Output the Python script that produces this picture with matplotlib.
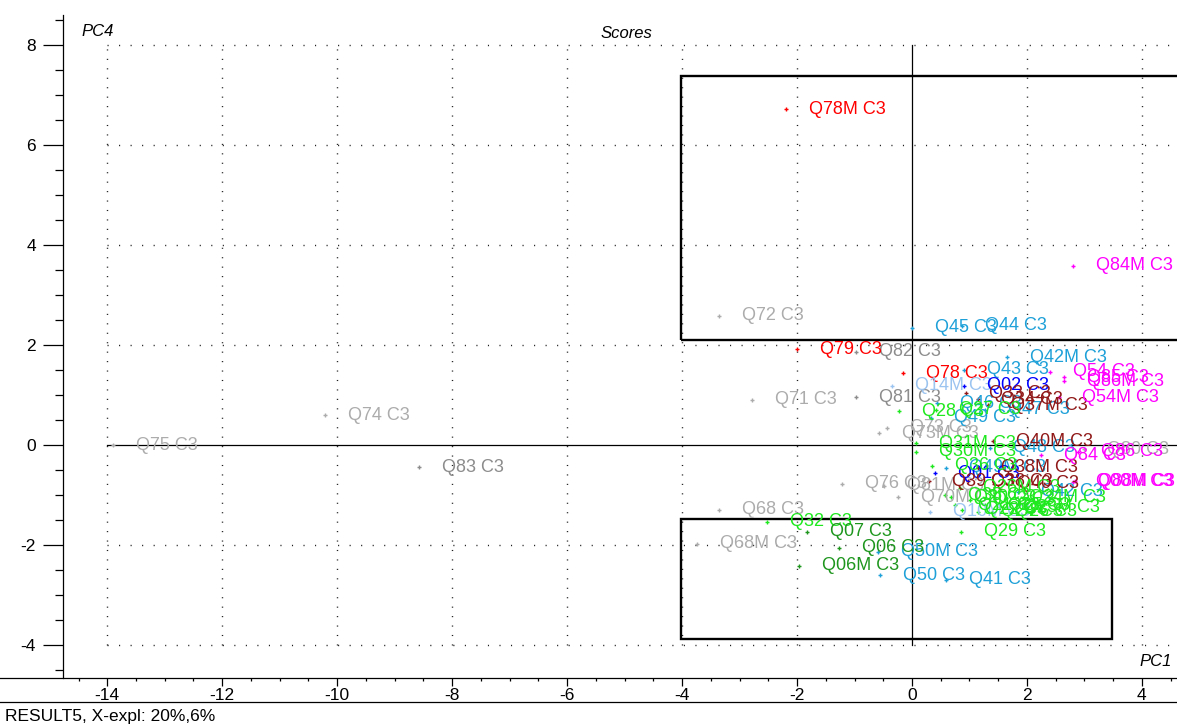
import numpy as np
import matplotlib
matplotlib.use('Agg')
import matplotlib.pyplot as plt
from matplotlib.lines import Line2D
from matplotlib.patches import Rectangle

plt.rcParams['font.family'] = ['Liberation Sans', 'DejaVu Sans']

# ============================================
# Scores (PC1 vs PC4)
# ============================================
sample_names = [
    # grey
    "Q75 C3", "Q74 C3", "Q83 C3", "Q72 C3", "Q71 C3", "Q68 C3", "Q68M C3",
    "Q82 C3", "Q81 C3", "Q73 C3", "Q73M C3", "Q76 C3", "Q81M C3", "Q70M C3",
    "Q80 C3",
    # red
    "Q78M C3", "Q79 C3", "Q78 C3",
    # light blue
    "Q45 C3", "Q44 C3", "Q42M C3", "Q43 C3", "Q46 C3", "Q49 C3", "Q47 C3",
    "Q48 C3", "Q49M C3", "Q42 C3", "Q50M C3", "Q50 C3", "Q41 C3",
    # pale blue
    "Q14M C3", "Q10M C3",
    # blue
    "Q02 C3", "Q01 C3",
    # dark red
    "Q33 C3", "Q34 C3", "Q37M C3", "Q40M C3", "Q38M C3", "Q39 C3", "Q38 C3",
    "Q40 C3",
    # green
    "Q32 C3", "Q29 C3", "Q28 C3", "Q27 C3", "Q31M C3", "Q30M C3", "Q36 C3",
    "Q20 C3", "Q21 C3", "Q22 C3", "Q23 C3", "Q24 C3", "Q25 C3", "Q26 C3",
    "Q23M C3", "Q24M C3", "Q35 C3", "Q26M C3",
    # dark green
    "Q07 C3", "Q06 C3", "Q06M C3",
    # magenta
    "Q84M C3", "Q54 C3", "Q85 C3", "Q86M C3", "Q54M C3", "Q84 C3", "Q86 C3",
    "Q00M C3", "Q88M C3",
]

pc1 = [
    -13.90, -10.21, -8.57, -3.36, -2.78, -3.36, -3.74,
    -0.97, -0.97, -0.43, -0.57, -1.22, -0.49, -0.24,
    2.99,
    -2.19, -2.00, -0.16,
    0.00, 0.87, 1.65, 0.90, 0.43, 0.33, 1.27,
    1.36, 0.59, 1.84, -0.59, -0.56, 0.59,
    -0.35, 0.31,
    0.90, 0.40,
    0.94, 1.15, 1.32, 1.41, 1.15, 0.30, 0.97,
    1.43,
    -2.52, 0.85, -0.23, 0.42, 0.07, 0.07, 0.35,
    0.68, 0.75, 0.87, 1.01, 1.15, 1.27, 1.39,
    1.53, 1.63, 0.57, 0.83,
    -1.83, -1.27, -1.97,
    2.80, 2.40, 2.64, 2.64, 2.56, 2.24, 2.89,
    2.80, 2.83,
]

pc4 = [
    0.00, 0.60, -0.44, 2.58, 0.90, -1.30, -1.98,
    1.86, 0.96, 0.34, 0.24, -0.78, -0.82, -1.04,
    -0.08,
    6.72, 1.92, 1.44,
    2.34, 2.38, 1.76, 1.50, 0.84, 0.54, 0.70,
    -0.06, -0.46, -0.94, -2.14, -2.60, -2.70,
    1.18, -1.34,
    1.18, -0.56,
    1.04, 0.92, 0.80, 0.08, -0.46, -0.72, -0.72,
    -0.78,
    -1.54, -1.74, 0.68, 0.70, 0.04, -0.14, -0.42,
    -1.04, -1.20, -1.30, -1.10, -1.34, -1.20, -1.34,
    -1.24, -1.06, -1.00, -0.86,
    -1.74, -2.06, -2.42,
    3.58, 1.46, 1.36, 1.28, 0.96, -0.20, -0.14,
    -0.74, -0.72,
]

groups = (["grey"] * 15 + ["red"] * 3 + ["lightblue"] * 13 + ["paleblue"] * 2
          + ["blue"] * 2 + ["darkred"] * 8 + ["green"] * 18 + ["darkgreen"] * 3
          + ["magenta"] * 9)

group_colours = {
    "grey": "#acacac",
    "red": "#ff0000",
    "lightblue": "#1ea0d8",
    "paleblue": "#9cc4f0",
    "blue": "#0000ff",
    "darkred": "#901818",
    "green": "#1ee81e",
    "darkgreen": "#1e961e",
    "magenta": "#ff00ff",
}
darker_grey = {"Q81 C3", "Q83 C3", "Q82 C3"}

# selection boxes: (x0, y0, x1, y1)
box_upper = [-4.02, 2.10, 5.0, 7.38]
box_lower = [-4.02, -3.88, 3.48, -1.48]

x_major = np.arange(-14, 5, 2)
y_major = np.arange(-4, 9, 2)

# ============================================
# Figure
# ============================================
W, H = 1177, 727
fig = plt.figure(figsize=(W / 100, H / 100), dpi=100)
ax = fig.add_axes([63 / W, (H - 678) / H, (W - 63) / W, (678 - 15) / H])
ax.set_xlim(-14.77, 4.61)
ax.set_ylim(-4.66, 8.60)

for s in ["top", "right", "bottom"]:
    ax.spines[s].set_visible(False)
ax.spines["left"].set_linewidth(0.9)

# dotted grid, limited to the tick range
for xv in x_major:
    if xv != 0:
        ax.plot([xv, xv], [-4, 8], color="#202020", lw=1.0,
                linestyle=(0, (0.8, 6.0)), zorder=1)
for yv in y_major:
    if yv != 0:
        ax.plot([-14, 4.61], [yv, yv], color="#202020", lw=1.0,
                linestyle=(0, (0.8, 7.5)), zorder=1)

# origin lines
ax.plot([0, 0], [-4, 8], color="black", lw=0.9, zorder=2)
ax.plot([-14, 4.61], [0, 0], color="black", lw=0.9, zorder=2)

for b in (box_upper, box_lower):
    ax.add_patch(Rectangle((b[0], b[1]), b[2] - b[0], b[3] - b[1],
                           fill=False, edgecolor="black", lw=1.7, zorder=3,
                           clip_on=True))

for name, x, y, g in zip(sample_names, pc1, pc4, groups):
    c = group_colours[g]
    if name in darker_grey:
        c = "#8c8c8c"
    ax.plot(x, y, marker="+", ms=3.5, mew=1.0, color=c, ls="none", zorder=4)
    ax.annotate(name, (x, y), xytext=(23, 0), textcoords="offset pixels",
                ha="left", va="center", fontsize=13, color=c, zorder=5,
                annotation_clip=False)

# ticks
ax.set_xticks(x_major)
ax.set_xticklabels([str(v) for v in x_major])
ax.set_xticks(np.arange(-14.5, 4.6, 0.5), minor=True)
ax.set_yticks(y_major)
ax.set_yticklabels([str(v) for v in y_major])
ax.set_yticks(np.arange(-4.5, 8.6, 0.5), minor=True)
ax.tick_params(axis="x", which="major", direction="out", length=6, width=0.9,
               pad=1, labelsize=12.5)
ax.tick_params(axis="x", which="minor", direction="out", length=2.2, width=0.9)
ax.tick_params(axis="y", which="major", direction="out", length=14.4,
               width=0.9, pad=5, labelsize=12.5)
ax.tick_params(axis="y", which="minor", direction="out", length=5.8, width=0.9)

# axis baselines across the whole width
fig.add_artist(Line2D([0, 1], [(H - 678) / H] * 2, color="black", lw=0.9))
fig.add_artist(Line2D([0, 1], [(H - 702) / H] * 2, color="black", lw=0.9))

fig.text(81 / W, 1 - 32 / H, "PC4", style="italic", fontsize=12,
         ha="left", va="center")
fig.text(626 / W, 1 - 33 / H, "Scores", style="italic", fontsize=12,
         ha="center", va="center")
fig.text(1172 / W, 1 - 662 / H, "PC1", style="italic", fontsize=12,
         ha="right", va="center")
fig.text(5 / W, 1 - 716 / H, "RESULT5, X-expl: 20%,6%", fontsize=12.5,
         ha="left", va="center")

fig.savefig("out.png", dpi=100)
